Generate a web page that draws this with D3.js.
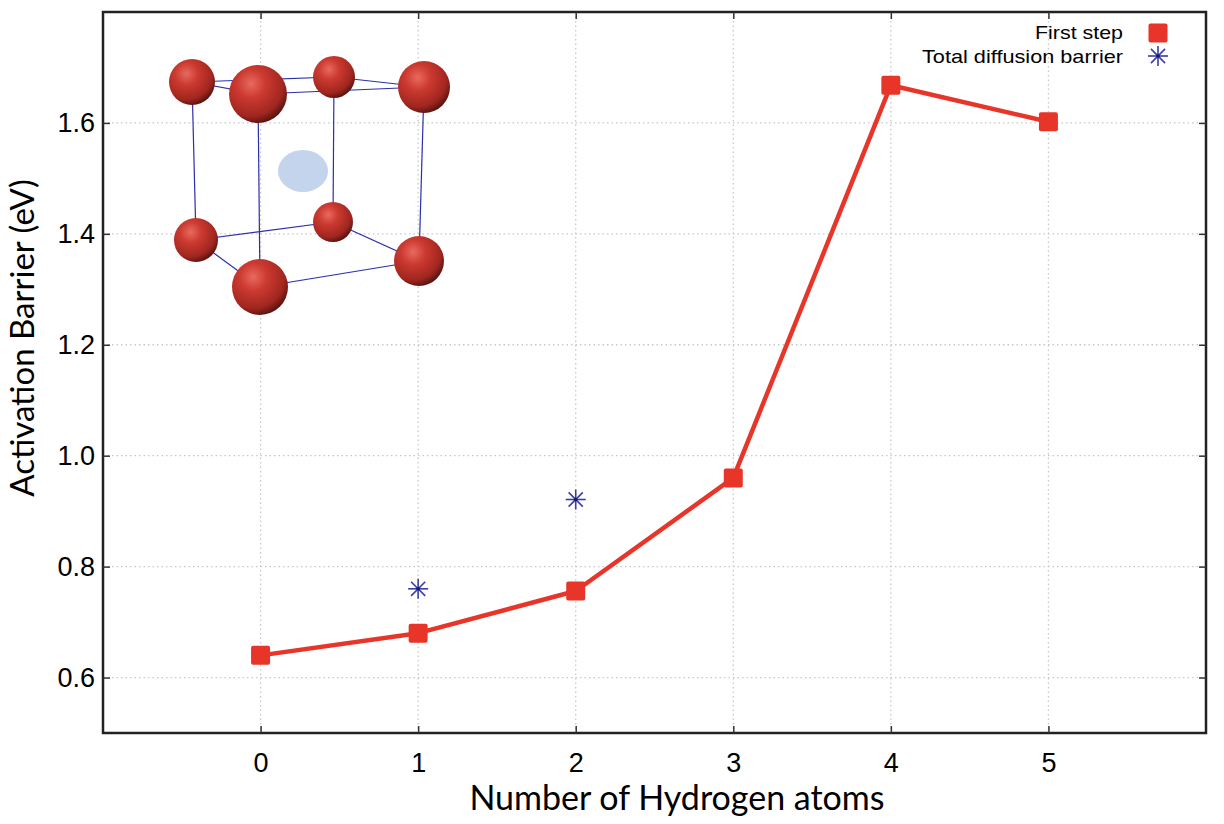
<!DOCTYPE html>
<html><head><meta charset="utf-8">
<script src="https://cdn.jsdelivr.net/npm/d3@7"></script>
<style>body{margin:0;background:#fff}svg{display:block}</style>
</head><body>
<svg id="c" width="1224" height="824"></svg>
<script>
const hydrogenAtoms = [0, 1, 2, 3, 4, 5];
const firstStep = [0.64, 0.68, 0.756, 0.96, 1.668, 1.602];
const totalAtoms = [1, 2];
const totalBarrier = [0.76, 0.921];
const xTicks = [0, 1, 2, 3, 4, 5];
const yTicks = [0.6, 0.8, 1.0, 1.2, 1.4, 1.6];
const legendLabels = ["First step", "Total diffusion barrier"];
const legendWidths = [88, 201];

// decorative inset (crystal cell picture), local pixel coords
const atoms = [
  {id:"tbl", x:192, y:82, r:23},
  {id:"tbr", x:334, y:77, r:21},
  {id:"tr",  x:424, y:87, r:26},
  {id:"tfl", x:258, y:94, r:29},
  {id:"bbk", x:333, y:222, r:20},
  {id:"bl",  x:196, y:240, r:22},
  {id:"br",  x:419, y:261, r:25},
  {id:"bf",  x:260, y:287, r:28}
];
const bonds = [["tbl","tfl"],["tbl","tbr"],["tbr","tr"],["tfl","tr"],
  ["tbl","bl"],["tfl","bf"],["tbr","bbk"],["tr","br"],
  ["bl","bbk"],["bl","bf"],["bf","br"],["bbk","br"]];

const svg = d3.select("#c");
const m = {l:103, t:12, r:1206, b:733};
const x = d3.scaleLinear().domain([-1, 6]).range([m.l, m.r]);
const y = d3.scaleLinear().domain([0.5, 1.8]).range([m.b, m.t]);

// grid
const grid = svg.append("g").attr("stroke", "#c8c8c8").attr("stroke-width", 1.3).attr("stroke-dasharray", "1.5,3");
grid.selectAll("line.gx").data(xTicks).join("line")
  .attr("x1", d => x(d)).attr("x2", d => x(d)).attr("y1", m.t).attr("y2", m.b);
grid.selectAll("line.gy").data(yTicks).join("line")
  .attr("y1", d => y(d)).attr("y2", d => y(d)).attr("x1", m.l).attr("x2", m.r);

// inset
const defs = svg.append("defs");
const rg = defs.append("radialGradient").attr("id", "ball").attr("cx", "38%").attr("cy", "32%").attr("r", "70%");
rg.append("stop").attr("offset", "0%").attr("stop-color", "#e86a60");
rg.append("stop").attr("offset", "35%").attr("stop-color", "#cc3a30");
rg.append("stop").attr("offset", "80%").attr("stop-color", "#a0261f");
rg.append("stop").attr("offset", "100%").attr("stop-color", "#5a1410");
const inset = svg.append("g");
const byId = Object.fromEntries(atoms.map(a => [a.id, a]));
inset.append("ellipse").attr("cx", 303).attr("cy", 171).attr("rx", 25).attr("ry", 21).attr("fill", "#c3d4ec");
inset.selectAll("line").data(bonds).join("line")
  .attr("x1", d => byId[d[0]].x).attr("y1", d => byId[d[0]].y)
  .attr("x2", d => byId[d[1]].x).attr("y2", d => byId[d[1]].y)
  .attr("stroke", "#2b2fa8").attr("stroke-width", 1.2);
inset.selectAll("circle").data(atoms).join("circle")
  .attr("cx", d => d.x).attr("cy", d => d.y).attr("r", d => d.r).attr("fill", "url(#ball)");

// frame
svg.append("rect").attr("x", m.l).attr("y", m.t).attr("width", m.r - m.l).attr("height", m.b - m.t)
  .attr("fill", "none").attr("stroke", "#222").attr("stroke-width", 2.5);

// axes
const font = "'Liberation Sans', Arial, sans-serif";
svg.append("g").attr("transform", `translate(0,${m.b})`)
  .call(d3.axisBottom(x).tickValues(xTicks).tickSize(-7).tickPadding(20).tickFormat(d3.format("d")));
svg.append("g").attr("transform", `translate(${m.l},0)`)
  .call(d3.axisLeft(y).tickValues(yTicks).tickSize(-7).tickPadding(8).tickFormat(d3.format(".1f")));
svg.append("g").attr("transform", `translate(0,${m.t})`)
  .call(d3.axisTop(x).tickValues(xTicks).tickSize(-7).tickFormat(""));
svg.append("g").attr("transform", `translate(${m.r},0)`)
  .call(d3.axisRight(y).tickValues(yTicks).tickSize(-7).tickFormat(""));
svg.selectAll(".domain").remove();
svg.selectAll(".tick line").attr("stroke", "#333").attr("stroke-width", 1.5);
svg.selectAll(".tick text").attr("font-family", font).attr("font-size", 27).attr("fill", "#000");

// axis titles
const tfont = "Lato, 'Open Sans', sans-serif";
svg.append("text").attr("x", 677).attr("y", 810).attr("text-anchor", "middle")
  .attr("font-family", tfont).attr("font-size", 34).attr("fill", "#000")
  .text("Number of Hydrogen atoms");
svg.append("text").attr("transform", "translate(34,338) rotate(-90)").attr("text-anchor", "middle")
  .attr("font-family", tfont).attr("font-size", 33).attr("fill", "#000")
  .text("Activation Barrier (eV)");

// series
const red = "#e8352a";
const line = d3.line().x((d, i) => x(hydrogenAtoms[i])).y(d => y(d));
svg.append("path").datum(firstStep).attr("d", line).attr("fill", "none")
  .attr("stroke", red).attr("stroke-width", 4.5).attr("stroke-linejoin", "round");
const sq = 19;
svg.selectAll("rect.pt").data(firstStep).join("rect").attr("class", "pt")
  .attr("x", (d, i) => x(hydrogenAtoms[i]) - sq / 2).attr("y", d => y(d) - sq / 2)
  .attr("width", sq).attr("height", sq).attr("rx", 2).attr("fill", red);

const blue = "#3c3ca8";
function star(g, cx, cy, s) {
  const a = d3.range(4).map(k => k * Math.PI / 4);
  g.selectAll(null).data(a).join("line")
    .attr("x1", d => cx - s * Math.cos(d)).attr("y1", d => cy - s * Math.sin(d))
    .attr("x2", d => cx + s * Math.cos(d)).attr("y2", d => cy + s * Math.sin(d))
    .attr("stroke", blue).attr("stroke-width", 1.6);
  g.append("circle").attr("cx", cx).attr("cy", cy).attr("r", 1.8).attr("fill", "#1a1a60");
}
totalBarrier.forEach((v, i) => star(svg.append("g"), x(totalAtoms[i]), y(v), 10));

// legend
const lg = svg.append("g");
lg.selectAll("text").data(legendLabels).join("text")
  .attr("x", 1123).attr("y", (d, i) => 39 + i * 24).attr("text-anchor", "end")
  .attr("font-family", font).attr("font-size", 19).attr("fill", "#000")
  .attr("textLength", (d, i) => legendWidths[i]).attr("lengthAdjust", "spacingAndGlyphs")
  .text(d => d);
lg.append("rect").attr("x", 1158 - sq / 2).attr("y", 33 - sq / 2).attr("width", sq).attr("height", sq)
  .attr("rx", 2).attr("fill", red);
star(lg.append("g"), 1158, 56, 10);
</script>
</body></html>
